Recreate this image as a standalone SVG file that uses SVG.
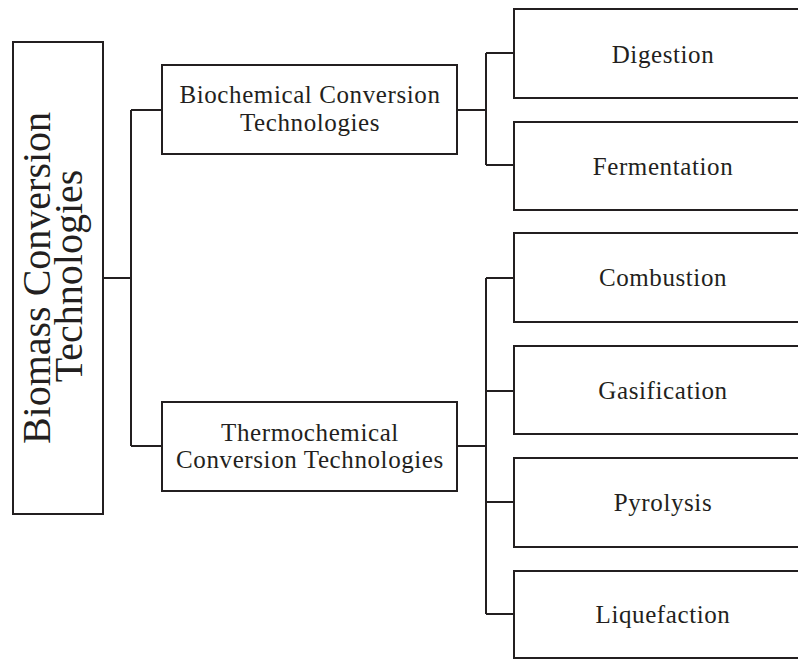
<svg xmlns="http://www.w3.org/2000/svg" width="798" height="659" viewBox="0 0 798 659">
<style>
.box{fill:#fff;stroke:#231f20;stroke-width:2}
.ln{fill:none;stroke:#231f20;stroke-width:2}
.t{font-family:"Liberation Serif","Times New Roman",serif;font-size:25px;letter-spacing:0.6px;fill:#231f20;text-anchor:middle}
.big{font-family:"Liberation Serif","Times New Roman",serif;font-size:40px;fill:#231f20;text-anchor:middle}
</style>
<rect width="798" height="659" fill="#fff"/>
<g id="connectors">
<path class="ln" d="M103 278H131M131 110V446M131 110H162M131 446H162"/>
<path class="ln" d="M457 110H486M486 53V165M486 53H514M486 165H514"/>
<path class="ln" d="M457 446H486M486 278V614M486 278H514M486 391H514M486 502H514M486 614H514"/>
</g>
<g id="root">
<rect class="box" x="13" y="42" width="90" height="472"/>
<text class="big" transform="translate(50,278) rotate(-90)">Biomass Conversion</text>
<text class="big" transform="translate(82,276) rotate(-90)">Technologies</text>
</g>
<g id="biochemical">
<rect class="box" x="162" y="65" width="295" height="89"/>
<text class="t" x="310" y="103">Biochemical Conversion</text>
<text class="t" x="310" y="131">Technologies</text>
</g>
<g id="thermochemical">
<rect class="box" x="162" y="402" width="295" height="89"/>
<text class="t" x="310" y="441">Thermochemical</text>
<text class="t" x="310" y="468">Conversion Technologies</text>
</g>
<g id="digestion">
<rect class="box" x="514" y="9" width="298" height="89"/>
<text class="t" x="663" y="63">Digestion</text>
</g>
<g id="fermentation">
<rect class="box" x="514" y="122" width="298" height="88"/>
<text class="t" x="663" y="175">Fermentation</text>
</g>
<g id="combustion">
<rect class="box" x="514" y="233" width="298" height="89"/>
<text class="t" x="663" y="286">Combustion</text>
</g>
<g id="gasification">
<rect class="box" x="514" y="346" width="298" height="88"/>
<text class="t" x="663" y="399">Gasification</text>
</g>
<g id="pyrolysis">
<rect class="box" x="514" y="458" width="298" height="89"/>
<text class="t" x="663" y="511">Pyrolysis</text>
</g>
<g id="liquefaction">
<rect class="box" x="514" y="571" width="298" height="87"/>
<text class="t" x="663" y="623">Liquefaction</text>
</g>
</svg>
